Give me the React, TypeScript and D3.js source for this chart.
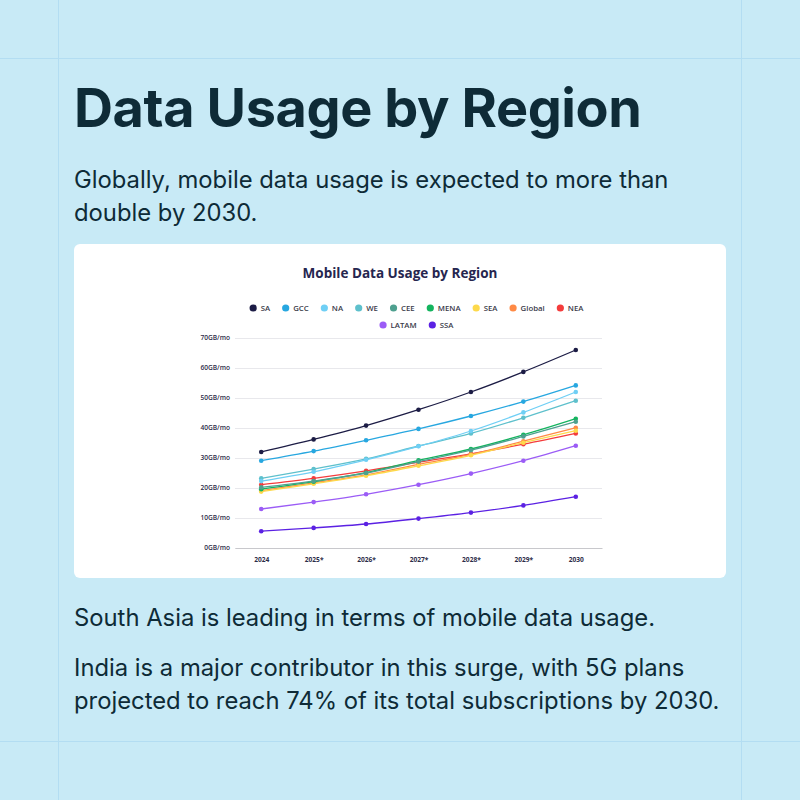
import React, { useEffect, useRef } from 'react';
import * as d3 from 'd3';

// categories / years
const years = ['2024', '2025*', '2026*', '2027*', '2028*', '2029*', '2030'];
const yTicks = [0, 10, 20, 30, 40, 50, 60, 70];

// series values (GB per month)
const SA = [32, 36.2, 40.8, 46.1, 52, 58.7, 66];
const GCC = [29.1, 32.3, 35.9, 39.7, 44, 48.8, 54.2];
const NA = [22.3, 25.4, 29.4, 33.9, 39, 45.2, 52];
const WE = [23.2, 26.3, 29.7, 34, 38.2, 43.4, 49.1];
const CEE = [20.2, 22.3, 25, 28.8, 32.6, 37.2, 42.1];
const MENA = [19.6, 22.1, 25.1, 29.2, 33, 37.7, 43.1];
const SEA = [18.8, 21.4, 24.1, 27.4, 30.9, 35.1, 39.1];
const GLOBAL = [19.1, 21.7, 24.4, 27.9, 31.2, 35.6, 40.1];
const NEA = [21.1, 23.2, 25.7, 28.6, 31.4, 34.6, 38.2];
const LATAM = [13, 15.3, 17.9, 21.1, 24.8, 29.1, 34.1];
const SSA = [5.6, 6.7, 8, 9.8, 11.8, 14.2, 17.1];

const seriesNames = ['SA', 'GCC', 'NA', 'WE', 'CEE', 'MENA', 'SEA', 'Global', 'NEA', 'LATAM', 'SSA'];
const seriesValues = [SA, GCC, NA, WE, CEE, MENA, SEA, GLOBAL, NEA, LATAM, SSA];
const seriesColors = ['#1c1c45', '#27a7e0', '#6fcff5', '#5ec0cc', '#4ea08f', '#14b45e', '#fdd94b', '#ff8a45', '#f43c3c', '#9b5cf6', '#5b21e3'];
const legendRows = [seriesNames.slice(0, 9), seriesNames.slice(9)];

const BG = '#c8eaf6';
const INK = '#0e2b37';

const App = () => {
  const ref = useRef<SVGSVGElement>(null);

  useEffect(() => {
    if (!ref.current) return;
    const svg = d3.select(ref.current);
    svg.selectAll('*').remove();

    svg.append('rect').attr('width', 800).attr('height', 800).attr('fill', BG);
    // frame guide lines
    const guide = '#b3ddf2';
    [58.5, 741.5].forEach(v => {
      svg.append('line').attr('x1', v).attr('x2', v).attr('y1', 0).attr('y2', 800).attr('stroke', guide);
      svg.append('line').attr('y1', v).attr('y2', v).attr('x1', 0).attr('x2', 800).attr('stroke', guide);
    });

    svg.append('text')
      .attr('x', 74).attr('y', 127)
      .attr('font-family', 'Inter').attr('font-weight', 700).attr('font-size', 54)
      .attr('letter-spacing', -0.4)
      .attr('fill', INK).text('Data Usage by Region');

    const para = (lines: string[], y0: number) => {
      lines.forEach((l, i) => {
        svg.append('text')
          .attr('x', 74).attr('y', y0 + i * 33)
          .attr('font-family', 'Inter').attr('font-size', 23.8)
          .attr('fill', INK).text(l);
      });
    };
    para(['Globally, mobile data usage is expected to more than', 'double by 2030.'], 188);
    para(['South Asia is leading in terms of mobile data usage.'], 626);
    para(['India is a major contributor in this surge, with 5G plans', 'projected to reach 74% of its total subscriptions by 2030.'], 676);

    // card
    svg.append('rect')
      .attr('x', 74).attr('y', 244).attr('width', 652).attr('height', 334)
      .attr('rx', 6).attr('fill', '#ffffff');

    svg.append('text')
      .attr('x', 400).attr('y', 278).attr('text-anchor', 'middle')
      .attr('font-family', 'Open Sans').attr('font-weight', 700).attr('font-size', 13.5)
      .attr('fill', '#26264f').text('Mobile Data Usage by Region');

    // scales
    const plotLeft = 235;
    const plotRight = 602;
    const x = d3.scalePoint<string>().domain(years).range([plotLeft, plotRight]).padding(0.5);
    const y = d3.scaleLinear().domain([0, 70]).range([548, 338]);

    // legend, centred over the plot area
    const legendCenter = (plotLeft + plotRight) / 2 - 2;
    const gap = 15.6;
    legendRows.forEach((row, ri) => {
      const g = svg.append('g');
      let cx = 0;
      row.forEach(name => {
        const idx = seriesNames.indexOf(name);
        g.append('circle').attr('cx', cx).attr('cy', 0).attr('r', 3.6).attr('fill', seriesColors[idx]);
        const t = g.append('text')
          .attr('x', cx + 7.5).attr('y', 2.8)
          .attr('font-family', 'Open Sans').attr('font-weight', 600).attr('font-size', 7.8)
          .attr('fill', '#3a3a4a').text(name);
        const w = (t.node() as SVGTextElement).getComputedTextLength();
        cx += 7.5 + w + gap;
      });
      const total = cx - gap + 3.6;
      g.attr('transform', `translate(${legendCenter - total / 2 + 3.6},${308 + ri * 17})`);
    });

    const yAxis = svg.append('g')
      .attr('transform', `translate(${plotLeft},0)`)
      .call(d3.axisLeft(y).tickValues(yTicks).tickSize(-(plotRight - plotLeft)).tickPadding(5).tickFormat(d => `${d}GB/mo`));
    yAxis.select('.domain').remove();
    yAxis.selectAll('.tick line').attr('stroke', '#e8e8ec');
    yAxis.selectAll('.tick text')
      .attr('font-family', 'Open Sans').attr('font-weight', 600).attr('font-size', 6.6)
      .attr('fill', '#2c2c48').attr('dy', '0.2em');

    const xAxis = svg.append('g')
      .attr('transform', 'translate(0,548)')
      .call(d3.axisBottom(x).tickSize(0).tickPadding(9));
    xAxis.select('.domain').attr('stroke', '#c8c8cc');
    xAxis.selectAll('.tick text')
      .attr('font-family', 'Open Sans').attr('font-weight', 700).attr('font-size', 6.6)
      .attr('fill', '#2c2c48');

    const line = d3.line<number>()
      .x((_, i) => x(years[i]) as number)
      .y(d => y(d))
      .curve(d3.curveMonotoneX);

    // draw bottom of the legend list first so SA ends up on top
    d3.range(seriesNames.length).reverse().forEach(si => {
      const g = svg.append('g');
      g.append('path')
        .datum(seriesValues[si])
        .attr('fill', 'none')
        .attr('stroke', seriesColors[si])
        .attr('stroke-width', 1.3)
        .attr('d', line);
      g.selectAll('circle')
        .data(seriesValues[si])
        .join('circle')
        .attr('cx', (_, i) => x(years[i]) as number)
        .attr('cy', d => y(d))
        .attr('r', 2.3)
        .attr('fill', seriesColors[si]);
    });
  }, []);

  return <svg ref={ref} width={800} height={800} style={{ display: 'block', position: 'absolute', left: 0, top: 0 }} />;
};

export default App;
